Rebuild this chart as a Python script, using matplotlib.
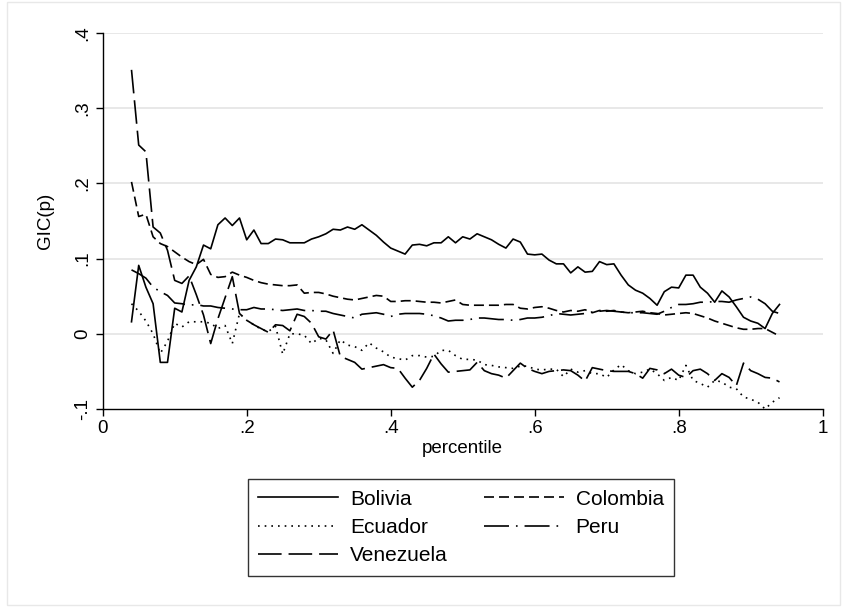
import matplotlib
matplotlib.use("Agg")
import matplotlib.pyplot as plt
import numpy as np
from matplotlib.patches import Rectangle

plt.rcParams['font.family'] = ['Liberation Sans', 'DejaVu Sans']
plt.rcParams['lines.scale_dashes'] = False

# percentiles 0.04 .. 0.94
percentile = np.round(np.arange(4, 95) / 100.0, 2)

bolivia = [
    0.016, 0.091, 0.062, 0.040, -0.038, -0.038, 0.034, 0.029, 0.071, 0.089,
    0.118, 0.113, 0.145, 0.154, 0.144, 0.154, 0.125, 0.138, 0.120, 0.120,
    0.126, 0.125, 0.121, 0.121, 0.121, 0.126, 0.129, 0.133, 0.139, 0.138,
    0.142, 0.139, 0.145, 0.138, 0.131, 0.122, 0.114, 0.110, 0.106, 0.118,
    0.119, 0.117, 0.121, 0.121, 0.129, 0.121, 0.129, 0.126, 0.133, 0.129,
    0.125, 0.119, 0.114, 0.126, 0.122, 0.106, 0.105, 0.106, 0.098, 0.093,
    0.093, 0.081, 0.089, 0.082, 0.083, 0.096, 0.092, 0.093, 0.078, 0.065,
    0.058, 0.054, 0.047, 0.038, 0.056, 0.062, 0.061, 0.078, 0.078, 0.062,
    0.054, 0.042, 0.057, 0.049, 0.036, 0.022, 0.017, 0.014, 0.007, 0.027,
    0.039,
]
colombia = [
    0.202, 0.156, 0.159, 0.129, 0.120, 0.116, 0.109, 0.102, 0.096, 0.092,
    0.099, 0.079, 0.075, 0.076, 0.082, 0.078, 0.075, 0.071, 0.068, 0.066,
    0.065, 0.064, 0.064, 0.065, 0.054, 0.055, 0.055, 0.053, 0.050, 0.048,
    0.046, 0.045, 0.047, 0.049, 0.051, 0.050, 0.043, 0.043, 0.044, 0.044,
    0.043, 0.042, 0.042, 0.041, 0.043, 0.045, 0.039, 0.038, 0.038, 0.038,
    0.038, 0.038, 0.039, 0.039, 0.034, 0.033, 0.035, 0.036, 0.034, 0.031,
    0.029, 0.031, 0.030, 0.032, 0.028, 0.031, 0.030, 0.031, 0.029, 0.028,
    0.029, 0.030, 0.028, 0.027, 0.025, 0.026, 0.027, 0.028, 0.027, 0.024,
    0.021, 0.017, 0.014, 0.011, 0.008, 0.006, 0.006, 0.007, 0.007, 0.002,
    -0.003,
]
ecuador = [
    0.040, 0.030, 0.017, 0.000, -0.026, -0.010, 0.014, 0.009, 0.016, 0.016,
    0.016, 0.014, 0.007, 0.011, -0.013, 0.027, 0.018, 0.012, 0.006, 0.003,
    0.010, -0.027, 0.000, 0.000, -0.002, -0.013, -0.006, -0.008, -0.026, -0.008,
    -0.015, -0.017, -0.022, -0.012, -0.019, -0.024, -0.031, -0.033, -0.035, -0.029,
    -0.029, -0.031, -0.030, -0.022, -0.022, -0.029, -0.034, -0.034, -0.035, -0.041,
    -0.042, -0.044, -0.045, -0.046, -0.043, -0.043, -0.047, -0.048, -0.047, -0.047,
    -0.057, -0.047, -0.051, -0.049, -0.053, -0.053, -0.058, -0.048, -0.041, -0.049,
    -0.053, -0.051, -0.047, -0.053, -0.062, -0.058, -0.062, -0.042, -0.062, -0.066,
    -0.071, -0.062, -0.064, -0.071, -0.073, -0.084, -0.087, -0.091, -0.100, -0.091,
    -0.085,
]
peru = [
    0.085, 0.080, 0.074, 0.062, 0.056, 0.051, 0.041, 0.040, 0.038, 0.039,
    0.037, 0.037, 0.035, 0.034, 0.033, 0.032, 0.032, 0.035, 0.033, 0.033,
    0.032, 0.031, 0.032, 0.033, 0.031, 0.031, 0.030, 0.030, 0.027, 0.025,
    0.023, 0.021, 0.026, 0.027, 0.028, 0.026, 0.023, 0.026, 0.027, 0.027,
    0.027, 0.026, 0.024, 0.021, 0.017, 0.018, 0.018, 0.019, 0.021, 0.021,
    0.020, 0.019, 0.019, 0.018, 0.019, 0.021, 0.021, 0.022, 0.024, 0.027,
    0.026, 0.025, 0.026, 0.027, 0.029, 0.030, 0.031, 0.030, 0.029, 0.028,
    0.028, 0.028, 0.027, 0.026, 0.030, 0.035, 0.039, 0.039, 0.040, 0.042,
    0.042, 0.043, 0.043, 0.042, 0.045, 0.047, 0.049, 0.046, 0.040, 0.030,
    0.027,
]
venezuela = [
    0.351, 0.251, 0.242, 0.142, 0.134, 0.111, 0.071, 0.067, 0.077, 0.052,
    0.025, -0.013, 0.020, 0.048, 0.076, 0.027, 0.018, 0.012, 0.007, 0.002,
    0.012, 0.011, 0.004, 0.026, 0.023, 0.014, -0.004, -0.007, 0.005, -0.030,
    -0.034, -0.038, -0.047, -0.045, -0.043, -0.041, -0.045, -0.046, -0.059, -0.071,
    -0.062, -0.046, -0.027, -0.040, -0.051, -0.050, -0.049, -0.048, -0.038, -0.049,
    -0.053, -0.055, -0.059, -0.049, -0.039, -0.046, -0.050, -0.053, -0.050, -0.049,
    -0.048, -0.049, -0.055, -0.063, -0.045, -0.047, -0.049, -0.050, -0.050, -0.050,
    -0.053, -0.059, -0.046, -0.048, -0.053, -0.047, -0.055, -0.058, -0.049, -0.047,
    -0.053, -0.062, -0.053, -0.058, -0.069, -0.039, -0.049, -0.053, -0.058, -0.059,
    -0.064,
]

x_ticks = [0, 0.2, 0.4, 0.6, 0.8, 1.0]
x_ticklabels = ["0", ".2", ".4", ".6", ".8", "1"]
y_ticks = [-0.1, 0, 0.1, 0.2, 0.3, 0.4]
y_ticklabels = ["-.1", "0", ".1", ".2", ".3", ".4"]

W, H = 848, 615
fig = plt.figure(figsize=(W / 100, H / 100), dpi=100)
fig.patch.set_facecolor("white")

# light outer frame around the graph region
fig.add_artist(Rectangle((7 / W, 1 - 605 / H), 833 / W, 603 / H,
                         transform=fig.transFigure, fill=False,
                         edgecolor="#e8e8e8", lw=1.0))

ax = fig.add_axes([102.7 / W, 1 - 409 / H, 720 / W, 376 / H])

lw = 1.2
series = [
    ("Bolivia", bolivia, "-"),
    ("Colombia", colombia, (0, (7.2, 3.6))),
    ("Ecuador", ecuador, (0, (1.2, 3.6))),
    ("Peru", peru, (0, (18, 5, 1.2, 5))),
    ("Venezuela", venezuela, (0, (17, 5))),
]
lines = {}
for name, vals, ls in series:
    lines[name], = ax.plot(percentile, vals, color="black", lw=lw,
                           linestyle=ls, label=name)

ax.set_xlim(0, 1)
ax.set_ylim(-0.1, 0.4)
ax.set_xticks(x_ticks)
ax.set_xticklabels(x_ticklabels)
ax.set_yticks(y_ticks)
ax.set_yticklabels(y_ticklabels, rotation=90, va="center")
for t in y_ticks[1:]:
    ax.axhline(t, color="#e6e6e6", lw=1.3, zorder=0)

for s in ["top", "right"]:
    ax.spines[s].set_visible(False)
for s in ["left", "bottom"]:
    ax.spines[s].set_linewidth(1.0)
ax.tick_params(direction="out", length=5, width=1.0, labelsize=13.5, pad=3)
ax.set_xlabel("percentile", fontsize=13.5, labelpad=2)
ax.set_ylabel("GIC(p)", fontsize=13.5, labelpad=15)

# legend filled row by row: two columns, three rows
order = ["Bolivia", "Ecuador", "Venezuela", "Colombia", "Peru"]
leg = fig.legend([lines[n] for n in order], order, loc="center",
                 bbox_to_anchor=(461 / W, 1 - 527.5 / H), ncol=2,
                 fontsize=15, frameon=True, fancybox=False,
                 edgecolor="black", handlelength=3.85, handletextpad=0.55,
                 columnspacing=1.75, labelspacing=0.45, borderpad=0.5,
                 borderaxespad=0)
leg.get_frame().set_linewidth(1.0)

fig.savefig("out.png", dpi=100, facecolor="white")
